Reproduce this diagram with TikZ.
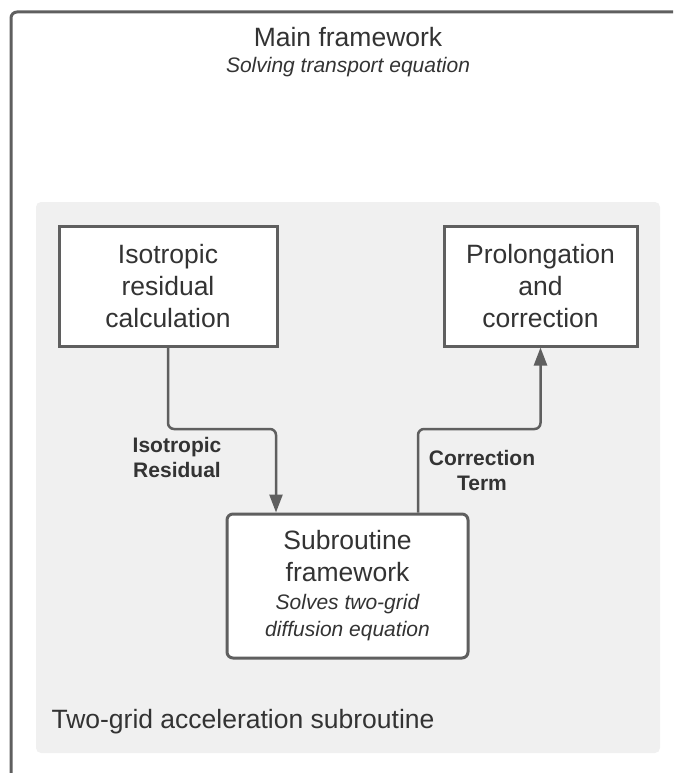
\documentclass[tikz,border=0pt]{standalone}
\usepackage{fontspec}
\setmainfont{Liberation Sans}
\usetikzlibrary{arrows.meta}

\newcommand{\subnote}{\itshape\fontsize{21}{26}\selectfont}

\begin{document}
\begin{tikzpicture}[x=1pt,y=-1pt]
  \definecolor{kGrey}{HTML}{5F5F5F}
  \definecolor{kText}{HTML}{333333}
  \definecolor{kPanel}{HTML}{F0F0F0}
  \tikzset{
    block/.style={draw=kGrey,line width=3pt,fill=white,text=kText,align=center,
                  inner sep=0pt,font=\fontsize{26.5}{32}\selectfont},
    link/.style={draw=kGrey,line width=2.5pt,rounded corners=6pt,
                 -{Triangle[width=13pt,length=18pt]}},
    tag/.style={text=kText,align=center,font=\bfseries\fontsize{21}{25}\selectfont}
  }

  \useasboundingbox (0,0) rectangle (673,773);
  \clip (0,0) rectangle (673,773);

  % main frame
  \draw[color=kGrey,line width=3pt,rounded corners=6pt] (11,12) rectangle (700,800);
  \node[text=kText,font=\fontsize{26.5}{30}\selectfont] (main) at (348,37) {Main framework};
  \node[text=kText,font=\itshape\fontsize{21}{24}\selectfont] (mainsub) at (348,67)
    {Solving transport equation};

  % subroutine panel
  \fill[color=kPanel,rounded corners=5pt] (36,202) rectangle (660,753);
  \node[anchor=west,text=kText,font=\fontsize{26.5}{30}\selectfont] (panel) at (48,722)
    {Two-grid acceleration subroutine};

  % blocks
  \node[block,minimum width=218pt,minimum height=120pt] (iso) at (168,286)
    {Isotropic\\residual\\calculation};
  \node[block,minimum width=193pt,minimum height=120pt] (pro) at (540.5,286)
    {Prolongation\\and\\correction};
  \node[block,rounded corners=6pt,minimum width=241pt,minimum height=144pt] (sub) at (347.5,586)
    {Subroutine\\framework\\[-4pt]\subnote Solves two-grid\\[-5pt]\subnote diffusion equation};

  % arrows
  \coordinate (ir) at (276,429);
  \coordinate (ct) at (418,429);
  \draw[link] (iso.south) |- (ir) -- (ir |- sub.north);
  \draw[link] (ct |- sub.north) -- (ct) -| (pro.south);

  % arrow labels
  \node[tag] (irtag) at (177,457) {Isotropic\\Residual};
  \node[tag] (cttag) at (482,470) {Correction\\Term};

\end{tikzpicture}
\end{document}
